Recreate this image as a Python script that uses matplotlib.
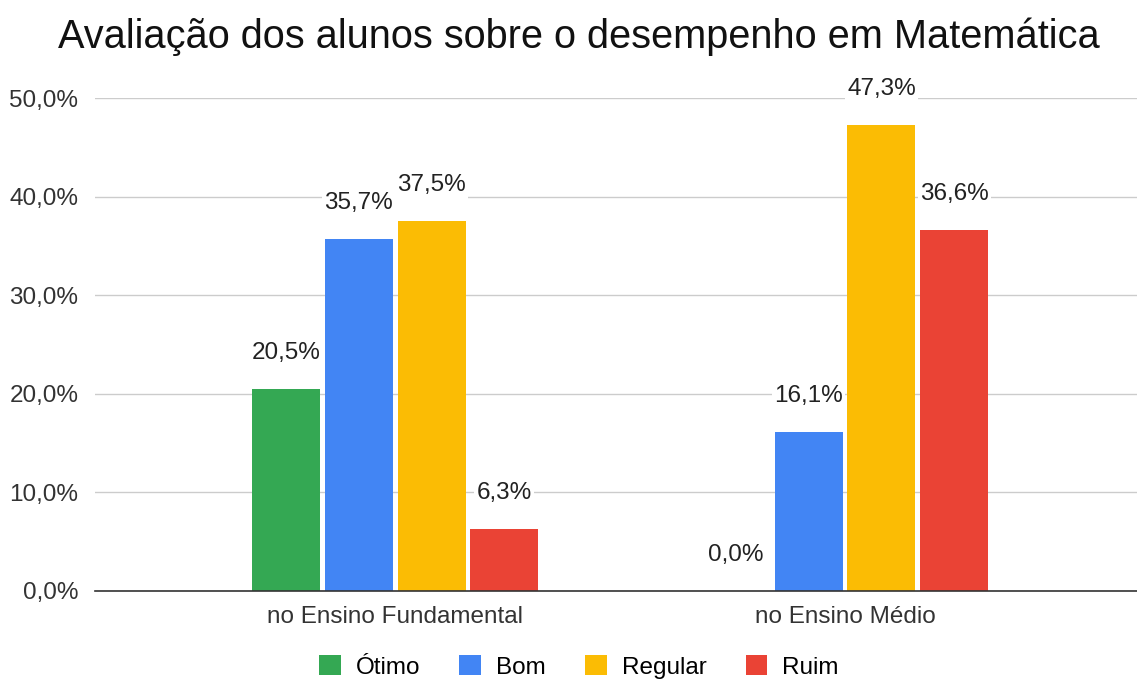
import numpy as np
import matplotlib.pyplot as plt

plt.rcParams['font.family'] = ['Liberation Sans', 'DejaVu Sans']

grupos = ['no Ensino Fundamental', 'no Ensino Médio']
series = ['Ótimo', 'Bom', 'Regular', 'Ruim']
otimo = [20.5, 0.0]
bom = [35.7, 16.1]
regular = [37.5, 47.3]
ruim = [6.3, 36.6]
yticks = [0, 10, 20, 30, 40, 50]

cores = ['#34A853', '#4285F4', '#FBBC04', '#EA4335']
valores = [otimo, bom, regular, ruim]

W, H = 1137, 681
fs = 17.5
fig = plt.figure(figsize=(W / 100, H / 100), dpi=100)
ax = fig.add_axes([95 / W, 1 - 591 / H, (1137 - 95) / W, (591 - 98) / H])

x = np.arange(len(grupos))
largura = 0.151
passo = 0.162
handles = []
for i, (nome, vals, cor) in enumerate(zip(series, valores, cores)):
    pos = x + (i - 1.5) * passo
    b = ax.bar(pos, vals, width=largura, color=cor, label=nome, zorder=3)
    handles.append(b)
    for px, v in zip(pos, vals):
        ax.annotate(f'{v:.1f}%'.replace('.', ','), (px, v), xytext=(0, 26),
                    textcoords='offset points', ha='center', va='center',
                    fontsize=fs, color='#222222', zorder=5, annotation_clip=False,
                    bbox=dict(boxstyle='square,pad=0.1', fc='white', ec='none'))

ax.set_xlim(-0.667, 1.649)
ax.set_ylim(0, 50)
ax.set_yticks(yticks)
ax.set_yticklabels([f'{t:.1f}%'.replace('.', ',') for t in yticks], fontsize=fs, color='#333333')
ax.set_xticks(x)
ax.set_xticklabels(grupos, fontsize=fs, color='#333333')
ax.tick_params(axis='both', length=0, pad=12)
ax.tick_params(axis='x', pad=11)
ax.yaxis.grid(True, color='#cccccc', linewidth=1, zorder=0)
for s in ['top', 'right', 'left']:
    ax.spines[s].set_visible(False)
ax.spines['bottom'].set_color('#333333')
ax.spines['bottom'].set_linewidth(1.2)
ax.spines['bottom'].set_zorder(4)

fig.text(579 / W, 1 - 37 / H, 'Avaliação dos alunos sobre o desempenho em Matemática',
         ha='center', va='center', fontsize=28.6, color='#111111')

fig.legend(handles=handles, loc='center', bbox_to_anchor=(579 / W, 1 - 667 / H),
           ncol=4, frameon=False, fontsize=fs, handlelength=0.9, handleheight=0.9,
           handletextpad=0.62, columnspacing=1.6)

fig.savefig('out.png', dpi=100)
